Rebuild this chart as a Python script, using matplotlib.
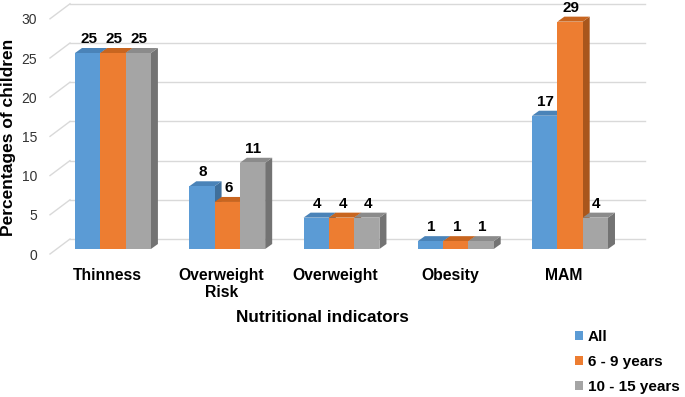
import numpy as np
import matplotlib.pyplot as plt
from matplotlib.patches import Polygon
from matplotlib.transforms import ScaledTranslation

plt.rcParams['font.family'] = ['Liberation Sans', 'DejaVu Sans']

# data
categories = ['Thinness', 'Overweight\nRisk', 'Overweight', 'Obesity', 'MAM']
series_names = ['All', '6 - 9 years', '10 - 15 years']
all_children = [25, 8, 4, 1, 17]
age_6_9 = [25, 6, 4, 1, 29]
age_10_15 = [25, 11, 4, 1, 4]
y_ticks = [0, 5, 10, 15, 20, 25, 30]

series = [all_children, age_6_9, age_10_15]
front_cols = ['#5B9BD5', '#ED7D31', '#A5A5A5']
top_cols = ['#4A83B8', '#C8651F', '#8B8B8B']
side_cols = ['#3F6F9B', '#A9561C', '#737373']

W, H = 685, 397
fig = plt.figure(figsize=(W / 100, H / 100), dpi=100)
ax = fig.add_axes([50 / W, 148 / H, 595 / W, 235.2 / H])
x0, x1 = -0.551, 4.656
ax.set_xlim(x0, x1)
ax.set_ylim(0, 30)
for s in ax.spines.values():
    s.set_visible(False)

# data units per pixel
px_x = (x1 - x0) / 595
px_y = 30 / 235.2

# back wall + floor gridlines (fake 3d)
for v in y_ticks:
    ax.plot([x0, x0 + 20 * px_x], [v - 5 * px_y, v + 10 * px_y],
            color='#D9D9D9', lw=1, zorder=0, clip_on=False)
    ax.plot([x0 + 20 * px_x, x1], [v + 10 * px_y] * 2,
            color='#D9D9D9', lw=1, zorder=0, clip_on=False)

x = np.arange(len(categories))
w = 25.3 * px_x
dx, dy = 7 * px_x, 5 * px_y

handles = []
for k, vals in enumerate(series):
    xs = x + (k - 1) * w
    b = ax.bar(xs, vals, width=w, color=front_cols[k], zorder=3 + 2 * k,
               label=series_names[k])
    handles.append(b)
    for xc, v in zip(xs, vals):
        l, r = xc - w / 2, xc + w / 2
        side = Polygon([(r, 0), (r + dx, dy), (r + dx, v + dy), (r, v)],
                       closed=True, facecolor=side_cols[k], edgecolor='none',
                       zorder=2 + 2 * k)
        top = Polygon([(l, v), (l + dx, v + dy), (r + dx, v + dy), (r, v)],
                      closed=True, facecolor=top_cols[k], edgecolor='none',
                      zorder=2 + 2 * k)
        ax.add_patch(side)
        ax.add_patch(top)
        ax.annotate(str(v), (xc + 1 * px_x, v), xytext=(0, 7),
                    textcoords='offset pixels', ha='center', va='bottom',
                    fontsize=11, fontweight='bold', zorder=20)

# y ticks
ax.set_yticks(y_ticks)
ax.tick_params(axis='y', length=0, pad=9.4, labelsize=10, labelcolor='#333333')
off_y = ScaledTranslation(0, -5 / 100, fig.dpi_scale_trans)
for lab in ax.get_yticklabels():
    lab.set_transform(lab.get_transform() + off_y)

# x ticks
ax.set_xticks(x)
ax.set_xticklabels(categories, fontsize=11.3, fontweight='bold', linespacing=1.15)
ax.tick_params(axis='x', length=0, pad=14)
off_x = ScaledTranslation(-6 / 100, 0, fig.dpi_scale_trans)
for lab in ax.get_xticklabels():
    lab.set_transform(lab.get_transform() + off_x)

fig.text(322 / W, 1 - 317 / H, 'Nutritional indicators', ha='center',
         va='center', fontsize=12.3, fontweight='bold')
fig.text(9 / W, 1 - 137 / H, 'Percentages of children', ha='center',
         va='center', rotation=90, fontsize=12.5, fontweight='bold')

fig.legend(handles=handles, loc='upper left', bbox_to_anchor=(575 / W, 1 - 330 / H),
           frameon=False, prop={'weight': 'bold', 'size': 11},
           handlelength=0.55, handleheight=0.55, handletextpad=0.3,
           labelspacing=0.72, borderpad=0, borderaxespad=0)

fig.savefig('out.png', dpi=100)
